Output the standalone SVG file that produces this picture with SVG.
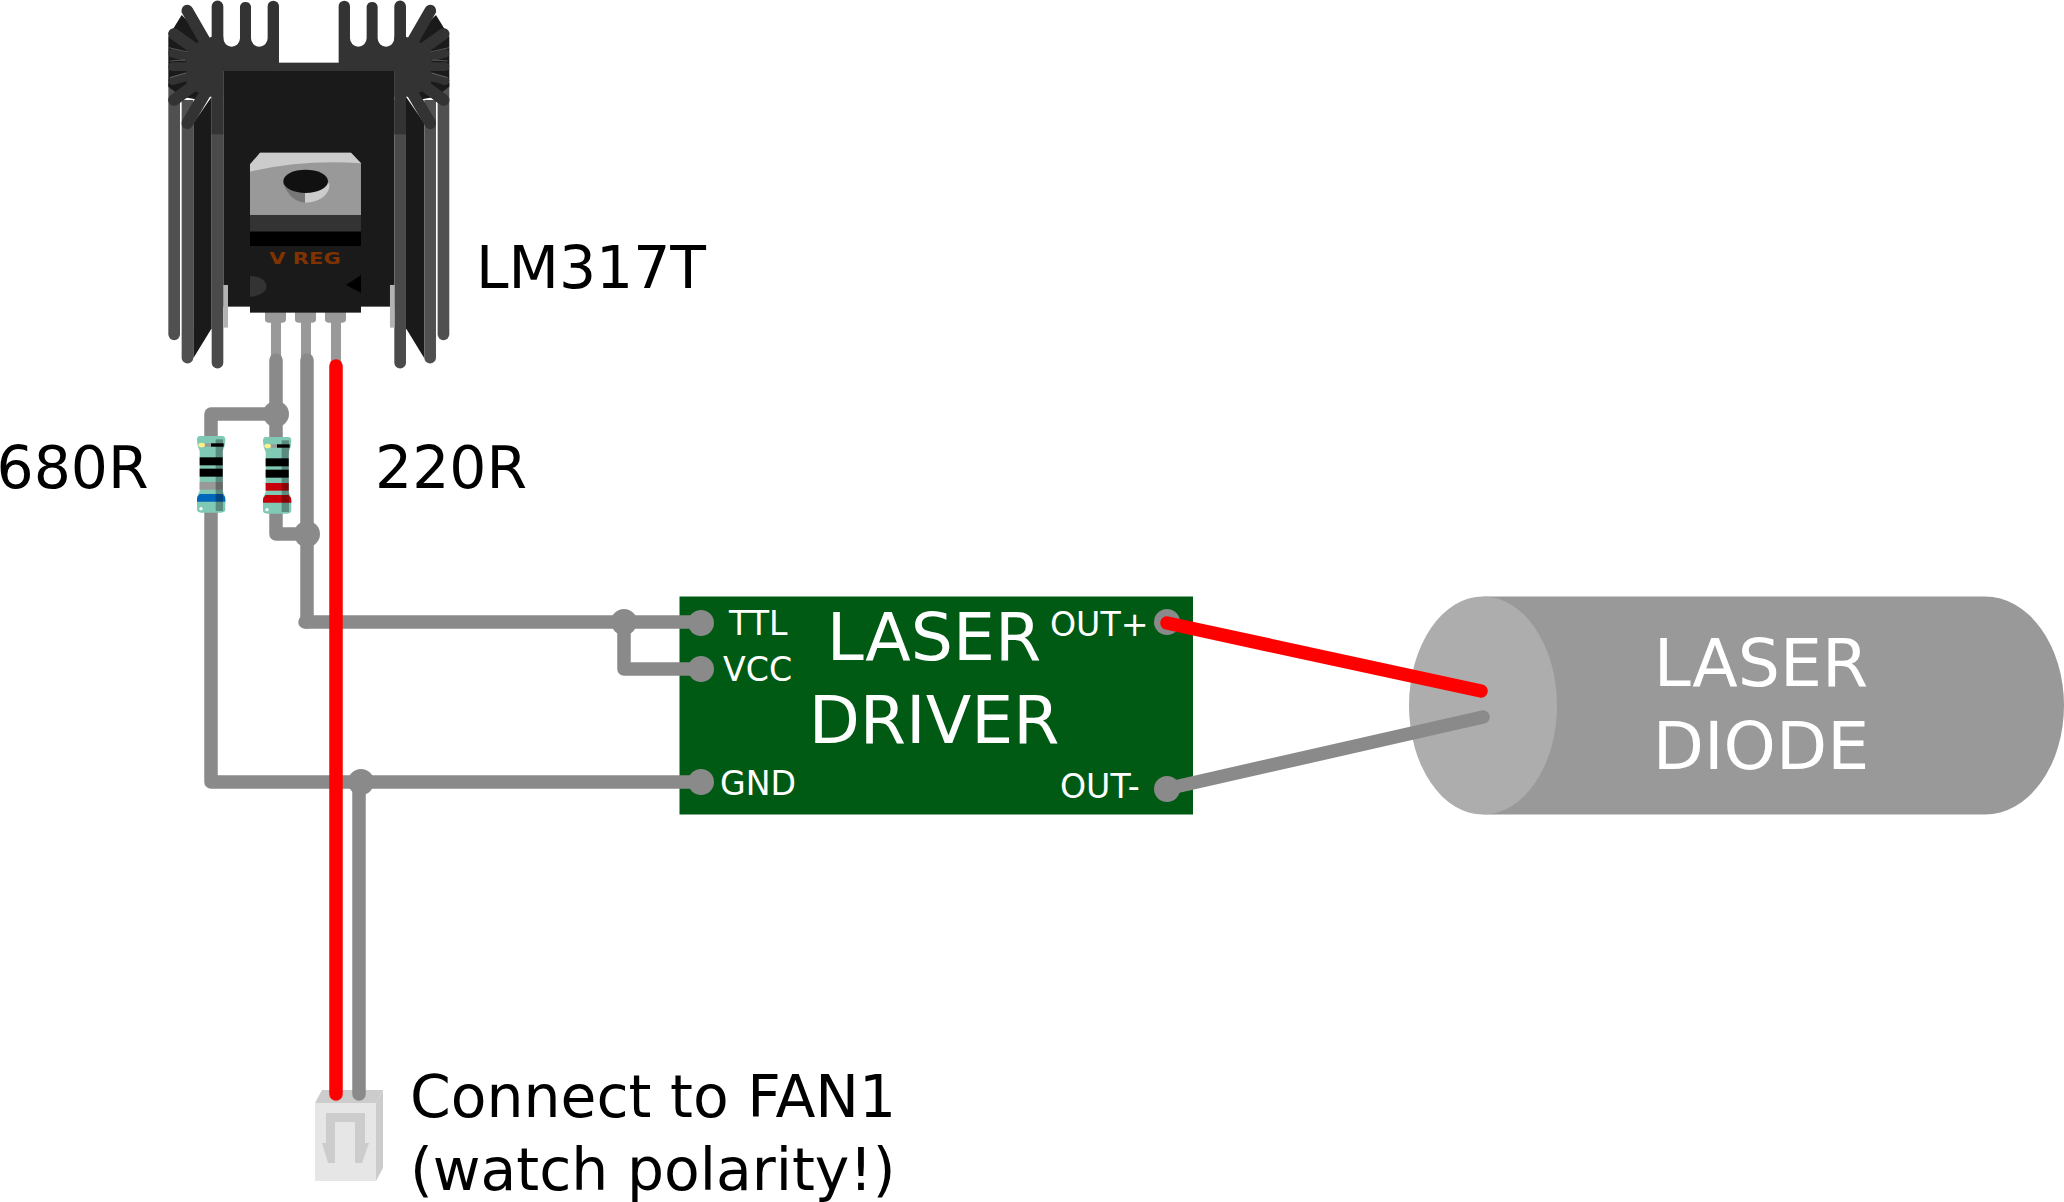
<svg xmlns="http://www.w3.org/2000/svg" width="2064" height="1202" viewBox="0 0 2064 1202">
<style>
text{font-family:"DejaVu Sans",sans-serif}
.lbl{font-size:58.4px;fill:#000}
.big{font-size:66.5px;fill:#fff;text-anchor:middle}
.pin{font-size:33.2px;fill:#fff}
.w{fill:none;stroke:#8a8a8a;stroke-width:13.5;stroke-linecap:round;stroke-linejoin:round}
.r{fill:none;stroke:#f00;stroke-width:13.5;stroke-linecap:round}
.pad{fill:#8a8a8a}
.fin{fill:none;stroke:#333;stroke-width:35;stroke-linecap:round}
.thin{fill:none;stroke:#333;stroke-width:26;stroke-linecap:round}
.slit{fill:none;stroke:#8a8a8a;stroke-width:1.6}
.vf{fill:#4a4a4a}
.vf2{fill:#505050}
</style>
<defs>
<g id="halfsink">
<path d="M130 370 L185 290 V985 L130 1075Z" fill="#1a1a1a"/>
<path d="M55 250 H90 V1003 a17 17 0 0 1 -35 0Z" class="vf2"/>
<path d="M95 300 H130 V1073 a17 17 0 0 1 -35 0Z" class="vf2"/>
<path d="M185 300 H220 V1088 a17 17 0 0 1 -35 0Z" class="vf"/>
<path d="M95 45 L180 130 L150 300 L95 290 L55 260 V110Z" fill="#1a1a1a"/>
<line class="fin" x1="112" y1="32" x2="180" y2="150"/>
<line class="fin" x1="72" y1="102" x2="160" y2="165"/>
<line class="thin" x1="68" y1="160" x2="140" y2="180"/>
<line class="thin" x1="68" y1="200" x2="140" y2="200"/>
<line class="thin" x1="68" y1="242" x2="140" y2="222"/>
<line class="fin" x1="72" y1="300" x2="160" y2="235"/>
<line class="fin" x1="112" y1="370" x2="180" y2="255"/>
<path d="M110 140L185 110H220V290L180 290L110 265Z" fill="#333"/>
<path d="M185 19 a17 17 0 0 1 35 0 V115 a25 25 0 0 0 50 0 V19 a17 17 0 0 1 33 0 V115 a25 25 0 0 0 50 0 V19 a17 17 0 0 1 34 0 V213 H185Z" fill="#333"/>
<path d="M185 190 H220 V403 H185Z" fill="#333"/>
<path class="slit" d="M56 143L112 156M60 183L105 180M60 233L108 219"/>
</g>
<g id="res">
<path d="M8 0H76Q85 0 85 12Q85 30 77 45V165Q85 180 85 192V220Q85 230 72 230H12Q0 230 0 220V192Q0 180 8 165V45Q0 30 0 12Q0 0 8 0Z" fill="#80c9b5"/>
<rect x="8" y="64" width="69" height="24" fill="#000"/>
<rect x="8" y="98" width="69" height="24" fill="#000"/>
<rect x="12" y="22" width="68" height="10" fill="#999"/>
<rect x="42" y="22" width="38" height="10" fill="#000"/>
<ellipse cx="14" cy="27" rx="10" ry="7" fill="#fdf08a"/>
<circle cx="12" cy="218" r="5" fill="#fff"/>
</g>
<rect id="shade" width="22" height="215" fill="#000" fill-opacity=".3"/>
</defs>

<g id="heatsink" transform="translate(150 0) scale(.3333)">
<rect x="220" y="213" width="513" height="707" fill="#1a1a1a"/>
<use href="#halfsink"/>
<use href="#halfsink" transform="matrix(-1 0 0 1 953 0)"/>
<rect x="387" y="188" width="180" height="25" fill="#333"/>
<rect x="220" y="855" width="14" height="128" fill="#b3b3b3"/>
<rect x="720" y="855" width="14" height="128" fill="#b3b3b3"/>
</g>

<g id="lm317t" transform="translate(150 0) scale(.3333)">
<path d="M345 930H408V958a10 10 0 0 1 -10 10H393V1100H363V968H355a10 10 0 0 1 -10 -10Z" fill="#999"/>
<path d="M435 930H498V958a10 10 0 0 1 -10 10H483V1100H453V968H445a10 10 0 0 1 -10 -10Z" fill="#999"/>
<path d="M525 930H588V958a10 10 0 0 1 -10 10H573V1100H543V968H535a10 10 0 0 1 -10 -10Z" fill="#999"/>
<rect x="300" y="738" width="333" height="200" fill="#1a1a1a"/>
<path d="M300 515L330 458H603L633 490V645H300Z" fill="#999"/>
<path d="M300 515V493L330 458H603L633 490Q460 478 300 515Z" fill="#ccc"/>
<rect x="300" y="645" width="333" height="50" fill="#333"/>
<rect x="300" y="695" width="333" height="43" fill="#000"/>
<path d="M465 555A70 52 0 0 0 400 550Q420 605 465 608Z" fill="#777"/>
<path d="M465 608A73 52 0 0 0 538 550L465 555Z" fill="#ccc"/>
<ellipse cx="467" cy="544" rx="67" ry="35" fill="#111"/>
<path d="M300 828A48 30 0 0 1 300 890Z" fill="#333"/>
<path d="M633 825L588 855L633 878Z" fill="#000"/>
<text x="358" y="792" font-size="46" font-weight="bold" fill="#803300" textLength="214" lengthAdjust="spacingAndGlyphs">V REG</text>
</g>

<g id="driver">
<rect x="679.5" y="596.5" width="513.5" height="218" fill="#005a14"/>
<text class="big" x="934" y="660">LASER</text>
<text class="big" x="934" y="743">DRIVER</text>
<text class="pin" x="729" y="635">TTL</text>
<text class="pin" x="723" y="681">VCC</text>
<text class="pin" x="720" y="795">GND</text>
<text class="pin" x="1050" y="636">OUT+</text>
<text class="pin" x="1060" y="798">OUT-</text>
</g>

<g id="diode">
<path d="M1484 596.5H1985A79 109 0 0 1 1985 814.5H1484Z" fill="#999"/>
<ellipse cx="1483" cy="705.5" rx="74" ry="109" fill="#adadad"/>
<text class="big" x="1761" y="686">LASER</text>
<text class="big" x="1761" y="769">DIODE</text>
</g>

<g id="fan-connector">
<rect x="315" y="1103" width="61" height="78" fill="#e6e6e6"/>
<path d="M315 1103L322 1090H383L376 1103Z" fill="#ccc"/>
<path d="M376 1103L383 1090V1168L376 1181Z" fill="#ccc"/>
<path d="M326 1113H365V1143H369L362 1163H355V1122H335V1163H328L322 1143H326Z" fill="#ccc"/>
</g>

<g id="connectors">
<path class="w" d="M276 360V414H211V440M276 414V440"/>
<path class="w" d="M307 360V622M276 510V534H307"/>
<path class="w" d="M211 510V782H700"/>
<path class="w" d="M359 782V1094"/>
<path class="w" d="M305 622H700M624 622V669H700"/>
<path class="w" d="M1166 789L1483 717"/>
<circle class="pad" cx="276" cy="414" r="13"/>
<circle class="pad" cx="307" cy="534" r="13"/>
<circle class="pad" cx="361" cy="782" r="13"/>
<circle class="pad" cx="624" cy="622" r="13"/>
<circle class="pad" cx="701" cy="623" r="13"/>
<circle class="pad" cx="701" cy="669" r="13"/>
<circle class="pad" cx="701" cy="782" r="13"/>
<circle class="pad" cx="1167" cy="622" r="13"/>
<circle class="pad" cx="1167" cy="789" r="13"/>
<path class="r" d="M336 366V1094"/>
<path class="r" d="M1167 623L1481 691"/>
</g>

<g id="resistor-680R" transform="translate(197 436) scale(.3333)">
<use href="#res"/>
<rect x="8" y="138" width="69" height="23" fill="#999"/>
<path d="M0 192Q0 180 8 174H77Q85 180 85 192V197H0Z" fill="#0066bb"/>
<use href="#shade" x="56" y="10"/>
</g>
<g id="resistor-220R" transform="translate(263 437) scale(.3333)">
<use href="#res"/>
<rect x="8" y="138" width="69" height="23" fill="#c8000a"/>
<path d="M0 192Q0 180 8 174H77Q85 180 85 192V197H0Z" fill="#c8000a"/>
<use href="#shade" x="56" y="10"/>
</g>

<g id="labels">
<text class="lbl" x="476" y="288">LM317T</text>
<text class="lbl" x="-3.5" y="488">680R</text>
<text class="lbl" x="375" y="488">220R</text>
<text class="lbl" x="410" y="1117">Connect to FAN1</text>
<text class="lbl" x="410" y="1190">(watch polarity!)</text>
</g>
</svg>
